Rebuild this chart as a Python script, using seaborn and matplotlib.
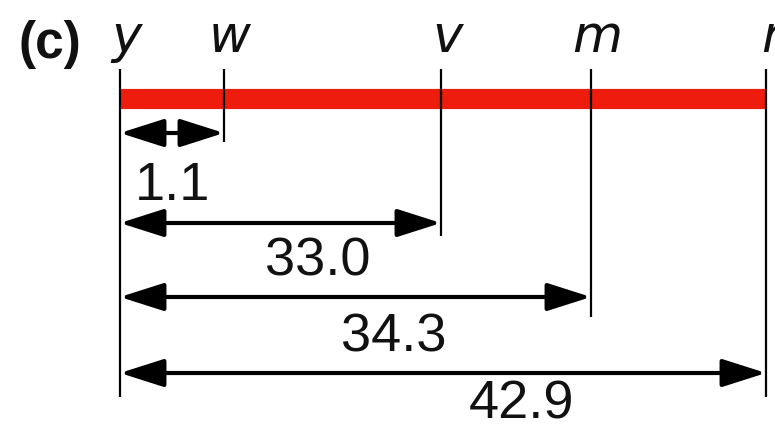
import matplotlib
matplotlib.use("Agg")
import matplotlib.pyplot as plt
import seaborn as sns
import pandas as pd

# ---- data ----
panel_label = "(c)"
genes = ["y", "w", "v", "m", "r"]
distances = [1.1, 33.0, 34.3, 42.9]          # map distance from y to w, v, m, r
distance_labels = ["1.1", "33.0", "34.3", "42.9"]

# ---- layout (schematic, pixel space) ----
gene_x = [120, 224, 441, 591, 766]           # drawing position of each locus
line_bottom = [398, 143, 237, 318, 398]
arrow_y = [134, 224, 298, 374]
label_pos = [(173, 186), (318, 262), (394, 338), (522, 405)]
line_top = 70
bar_y = 100

sns.set_theme(style="white")
plt.rcParams["font.family"] = ["Liberation Sans", "DejaVu Sans"]

fig = plt.figure(figsize=(7.75, 4.27), dpi=100)
ax = fig.add_axes([0, 0, 1, 1])
ax.set_xlim(0, 775)
ax.set_ylim(427, 0)
ax.axis("off")

# red chromosome bar
bar = pd.DataFrame({"x": [gene_x[0], gene_x[-1]], "y": [bar_y, bar_y]})
sns.lineplot(data=bar, x="x", y="y", ax=ax, color="#ee1c0c", linewidth=14.5,
             solid_capstyle="butt", zorder=1)

# vertical locus lines
ax.vlines(gene_x, line_top, line_bottom, color="black", linewidth=1.6, zorder=2)

# gene labels
for g, x in zip(genes, gene_x):
    ax.text(x + 6, 52, g, fontsize=37, fontstyle="italic", family="DejaVu Sans",
            ha="center", va="baseline", color="#111111")

ax.text(50, 58, panel_label, fontsize=37, fontweight="bold", ha="center",
        va="baseline", color="#111111")

# distance arrows
for i, (d, lab) in enumerate(zip(distances, distance_labels)):
    y = arrow_y[i]
    ax.annotate("", xy=(gene_x[i + 1], y), xytext=(gene_x[0], y),
                arrowprops=dict(arrowstyle="<|-|>,head_length=1.35,head_width=0.43",
                                mutation_scale=20, lw=3, color="black",
                                shrinkA=0, shrinkB=0))
    lx, ly = label_pos[i]
    ax.text(lx, ly, lab, fontsize=39, ha="center", va="center", color="#111111")

fig.savefig("out.png", dpi=100)
